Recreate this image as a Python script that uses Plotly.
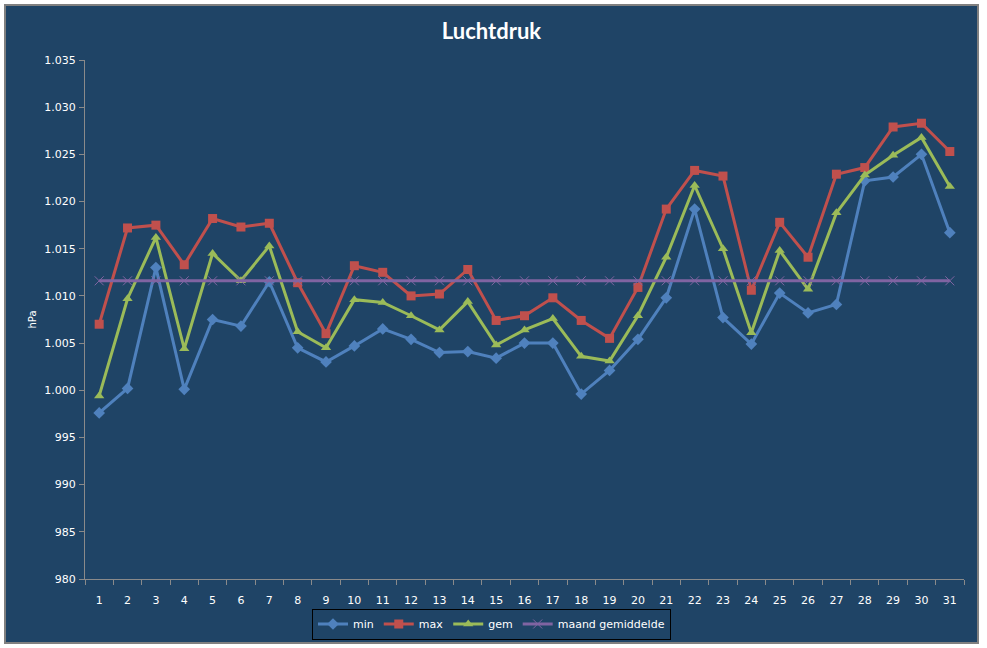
import plotly.graph_objects as go

days = list(range(1, 32))
day_labels = [str(d) for d in days]

p_min = [997.6, 1000.2, 1013.0, 1000.1, 1007.5, 1006.8, 1011.5, 1004.5, 1003.0, 1004.7,
         1006.5, 1005.4, 1004.0, 1004.1, 1003.4, 1005.0, 1005.0, 999.6, 1002.1, 1005.4,
         1009.8, 1019.2, 1007.7, 1004.9, 1010.3, 1008.2, 1009.1, 1022.2, 1022.6, 1025.0, 1016.7]
p_max = [1007.0, 1017.2, 1017.5, 1013.3, 1018.2, 1017.3, 1017.7, 1011.4, 1006.0, 1013.2,
         1012.5, 1010.0, 1010.2, 1012.8, 1007.4, 1007.9, 1009.8, 1007.4, 1005.5, 1010.9,
         1019.2, 1023.3, 1022.7, 1010.6, 1017.8, 1014.1, 1022.9, 1023.6, 1027.9, 1028.3, 1025.3]
p_gem = [999.4, 1009.7, 1016.2, 1004.4, 1014.5, 1011.6, 1015.3, 1006.2, 1004.5, 1009.6,
         1009.3, 1007.9, 1006.4, 1009.4, 1004.8, 1006.4, 1007.6, 1003.6, 1003.1, 1007.9,
         1014.1, 1021.7, 1015.0, 1006.1, 1014.8, 1010.7, 1018.8, 1022.8, 1024.9, 1026.8, 1021.6]
p_maand = [1011.6] * 31

y_ticks = [980, 985, 990, 995, 1000, 1005, 1010, 1015, 1020, 1025, 1030, 1035]

BG = "#1F4466"
AX = "#8a8a8a"
TXT = "#FFFFFF"

ML, MR, MT, MB = 85, 23, 60, 69
W, H = 987, 648
PW, PH = W - ML - MR, H - MT - MB

fig = go.Figure()

fig.add_trace(go.Scatter(x=days, y=p_min, name="min", mode="lines+markers",
                         line=dict(color="#4F81BD", width=3),
                         marker=dict(symbol="diamond", size=9, color="#4F81BD")))
fig.add_trace(go.Scatter(x=days, y=p_max, name="max", mode="lines+markers",
                         line=dict(color="#C0504D", width=3),
                         marker=dict(symbol="square", size=9, color="#C0504D")))
fig.add_trace(go.Scatter(x=days, y=p_gem, name="gem", mode="lines+markers",
                         line=dict(color="#9BBB59", width=3),
                         marker=dict(symbol="triangle-up", size=9, color="#9BBB59")))
fig.add_trace(go.Scatter(x=days, y=p_maand, name="maand gemiddelde", mode="lines+markers",
                         line=dict(color="#8064A2", width=3),
                         marker=dict(symbol="x-thin", size=9,
                                     line=dict(color="#8064A2", width=1))))

fig.update_layout(
    width=W, height=H,
    paper_bgcolor="#FFFFFF", plot_bgcolor=BG,
    separators=",.",
    margin=dict(l=ML, r=MR, t=MT, b=MB, autoexpand=False),
    title=dict(text="<b>Luchtdruk</b>", x=(5 + 978) / 2 / W, xanchor="center",
               y=1 - 31 / H, yanchor="middle",
               font=dict(family="Lato, Open Sans, sans-serif", size=22, color=TXT)),
    font=dict(family="DejaVu Sans, Verdana, sans-serif", size=11, color=TXT),
    showlegend=True,
    legend=dict(orientation="h", xref="container", yref="container",
                x=491.5 / W, xanchor="center", y=24 / H, yanchor="middle",
                bordercolor="#000000", borderwidth=1, bgcolor="rgba(0,0,0,0)",
                font=dict(family="DejaVu Sans, Verdana, sans-serif", size=11, color=TXT),
                itemwidth=30, tracegroupgap=0),
    xaxis=dict(range=[0.5, 31.5], tickmode="array", tickvals=days, ticktext=day_labels,
               showgrid=False, zeroline=False, showline=True, linecolor=AX, linewidth=1,
               ticks="", ticklabelstandoff=11,
               minor=dict(tickmode="linear", tick0=0.5, dtick=1, ticks="outside",
                          ticklen=5, tickcolor=AX, showgrid=False),
               tickfont=dict(size=11, color=TXT)),
    yaxis=dict(range=[980, 1035], tickmode="array", tickvals=y_ticks, tickformat=",.0f",
               showgrid=False, zeroline=False, showline=True, linecolor=AX, linewidth=1,
               ticks="outside", ticklen=5, tickcolor=AX, ticklabelstandoff=1,
               title=dict(text="hPa", font=dict(size=10, color=TXT), standoff=5),
               tickfont=dict(size=11, color=TXT)),
)

# chart-area background panel with grey border (pixel box 5..978 x 5..643)
fig.add_shape(type="rect", xref="paper", yref="paper",
              x0=(5 - ML) / PW, x1=(978 - ML) / PW,
              y0=(H - MB - 643) / PH, y1=(H - MB - 5) / PH,
              fillcolor=BG, line=dict(color="#808080", width=2), layer="below")

fig.write_html("out.html")
